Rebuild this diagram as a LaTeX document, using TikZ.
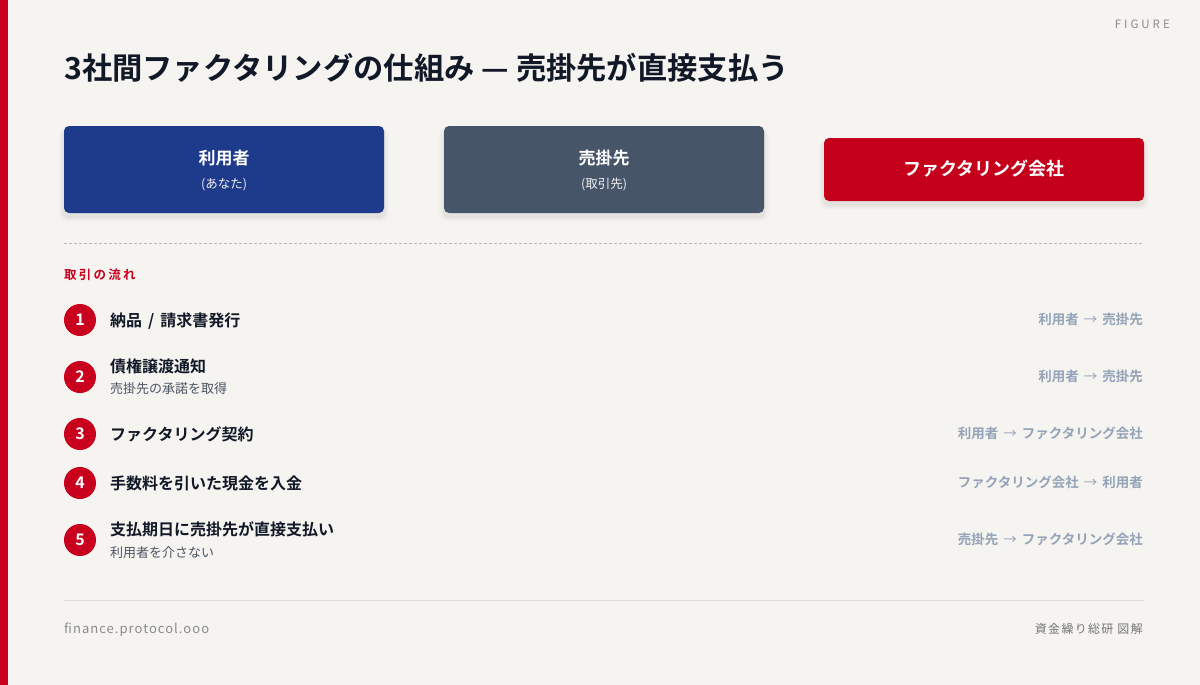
\documentclass[tikz,border=0pt]{standalone}
\usepackage{fontspec}
\setmainfont{Noto Sans CJK JP}
\newfontfamily\jp{Noto Sans CJK JP}
\newfontfamily\jpb{Noto Sans CJK JP Bold}
\newfontfamily\jpsp[LetterSpace=8]{Noto Sans CJK JP}
\newfontfamily\jpspb[LetterSpace=11]{Noto Sans CJK JP}
\newfontfamily\jpbsp[LetterSpace=18]{Noto Sans CJK JP Bold}
\newfontfamily\figsp[LetterSpace=26]{Noto Sans CJK JP}
\definecolor{bg}{HTML}{F5F4F0}
\definecolor{accent}{HTML}{C8001E}
\definecolor{navy}{HTML}{1E3A8A}
\definecolor{slate}{HTML}{475569}
\definecolor{redbox}{HTML}{C5001A}
\definecolor{ink}{HTML}{111827}
\definecolor{sub}{HTML}{4B5563}
\definecolor{flow}{HTML}{94A3B8}
\definecolor{muted}{HTML}{8A8A8A}
\tikzset{
  party/.style={rounded corners=5pt, minimum width=320pt, inner sep=0pt},
  stepnum/.style={circle, fill=accent, minimum size=32pt, inner sep=0pt, text=white, font=\jpb\fontsize{16}{16}\selectfont},
  steptext/.style={anchor=base west, inner sep=0pt, text=ink, font=\jpb\fontsize{16}{16}\selectfont},
  stepsub/.style={anchor=base west, inner sep=0pt, text=sub, font=\jp\fontsize{13}{13}\selectfont},
  flowtext/.style={anchor=base east, inner sep=0pt, text=flow, font=\jpb\fontsize{13.5}{13.5}\selectfont},
  boxtitle/.style={inner sep=0pt, anchor=base, text=white, font=\jpb\fontsize{17}{17}\selectfont},
  boxsub/.style={inner sep=0pt, anchor=base, text=white!94!black, font=\jp\fontsize{12.5}{12.5}\selectfont}
}
\newcommand{\arr}{\hspace{5pt}{\jp →}\hspace{5pt}}
\newcommand{\softshadow}[4]{% x1 y1 x2 y2
  \foreach \s/\o in {8/0.012,6/0.015,4/0.02,2/0.025}{
    \fill[black, opacity=\o, rounded corners=7pt] (#1-\s*0.6,#2-\s*0.3+4) rectangle (#3+\s*0.6,#4+\s*0.6+4);
  }}
\begin{document}
\begin{tikzpicture}[x=1pt,y=-1pt]
\fill[bg] (0,0) rectangle (1200,685);
\useasboundingbox (0,0) rectangle (1200,685);
\fill[accent] (0,0) rectangle (8,685);
\node[anchor=base east, inner sep=0pt, text=muted, font=\figsp\fontsize{11.5}{11.5}\selectfont] (fig) at (1170,29) {FIGURE};
\node[anchor=base west, inner sep=0pt, text=ink, font=\jpb\fontsize{30.3}{30.3}\selectfont] (title) at (64,80) {3社間ファクタリングの仕組み — 売掛先が直接支払う};
% shadows
\softshadow{64}{126}{384}{213}
\softshadow{444}{126}{764}{213}
\softshadow{824}{138}{1144}{201}
% parties
\node[party, fill=navy, minimum height=87pt] (user) at (224,169.5) {};
\node[party, fill=slate, minimum height=87pt] (buyer) at (604,169.5) {};
\node[party, fill=redbox, minimum height=63pt] (factor) at (984,169.5) {};
\node[boxtitle] (userT) at (224,164) {利用者};
\node[boxsub] (userS) at (224,188.5) {(あなた)};
\node[boxtitle] (buyerT) at (604,164) {売掛先};
\node[boxsub] (buyerS) at (604,188.5) {(取引先)};
\node[boxtitle, font=\jpb\fontsize{18}{18}\selectfont] (factorT) at (984,175.5) {ファクタリング会社};
% dashed divider
\coordinate (d1) at (64,243.5);
\coordinate (d2) at (1144,243.5);
\draw[black!28, line width=0.8pt, dash pattern=on 3pt off 2pt] (d1) -- (d2);
\node[anchor=base west, inner sep=0pt, text=accent, font=\jpbsp\fontsize{12.5}{12.5}\selectfont] (flowhead) at (64,279) {取引の流れ};
% steps
\node[stepnum] (n1) at (80,320) {1};
\node[steptext] (t1) at (110,326) {納品\hspace{6pt}/\hspace{6pt}請求書発行};
\node[flowtext] (f1) at (1143,324) {利用者\arr 売掛先};
\node[stepnum] (n2) at (80,377) {2};
\node[steptext] (t2) at (110,372) {債権譲渡通知};
\node[stepsub] (s2) at (110,393) {売掛先の承諾を取得};
\node[flowtext] (f2) at (1143,381) {利用者\arr 売掛先};
\node[stepnum] (n3) at (80,434) {3};
\node[steptext] (t3) at (110,440) {ファクタリング契約};
\node[flowtext] (f3) at (1143,438) {利用者\arr ファクタリング会社};
\node[stepnum] (n4) at (80,483) {4};
\node[steptext] (t4) at (110,489) {手数料を引いた現金を入金};
\node[flowtext] (f4) at (1143,487) {ファクタリング会社\arr 利用者};
\node[stepnum] (n5) at (80,540) {5};
\node[steptext] (t5) at (110,535) {支払期日に売掛先が直接支払い};
\node[stepsub] (s5) at (110,557) {利用者を介さない};
\node[flowtext] (f5) at (1143,544) {売掛先\arr ファクタリング会社};
% footer
\coordinate (e1) at (64,600.5);
\coordinate (e2) at (1144,600.5);
\draw[black!14, line width=0.9pt] (e1) -- (e2);
\node[anchor=base west, inner sep=0pt, text=muted, font=\jpsp\fontsize{13}{13}\selectfont] (site) at (64,633) {finance.protocol.ooo};
\node[anchor=base east, inner sep=0pt, text=muted!85!black, font=\jpspb\fontsize{12}{12}\selectfont] (brand) at (1143,633) {資金繰り総研 図解};
\end{tikzpicture}
\end{document}
